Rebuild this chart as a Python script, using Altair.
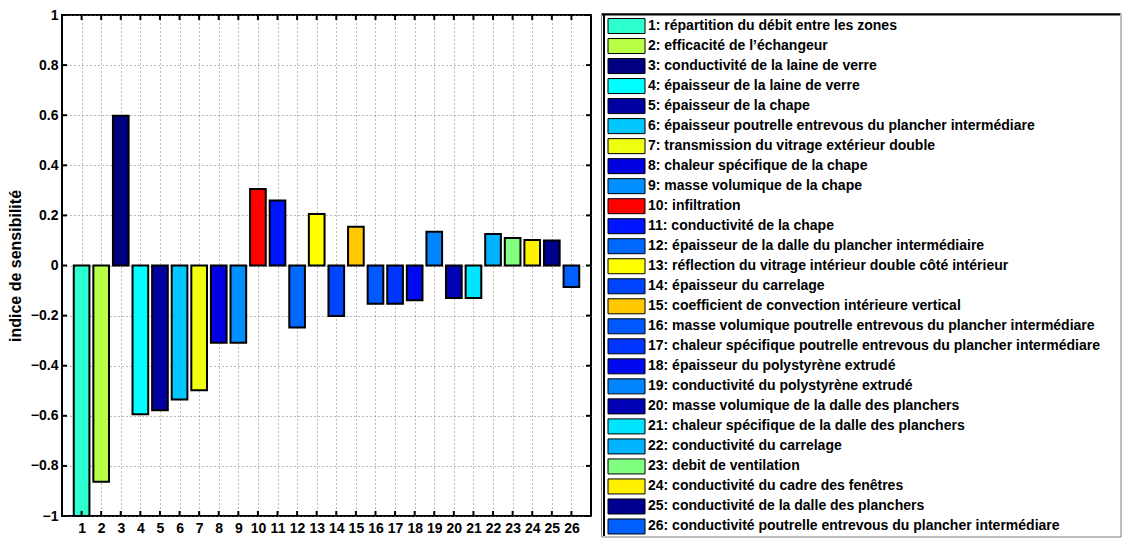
import altair as alt
import pandas as pd

# ---------------- data ----------------
nums = list(range(1, 27))
values = [-1.0, -0.863, 0.598, -0.594, -0.578, -0.535, -0.498, -0.308, -0.308,
          0.305, 0.259, -0.248, 0.206, -0.202, 0.155, -0.153, -0.153, -0.139,
          0.135, -0.130, -0.130, 0.126, 0.110, 0.102, 0.100, -0.086]
colors = ["#2EFFCF", "#B8FF45", "#000080", "#00FFFF", "#0000A0", "#00C8FF",
          "#F0FF10", "#0000E0", "#0090FF", "#FF0000", "#0014FF", "#0068FF",
          "#FFFF00", "#0044FF", "#FFC800", "#0058FF", "#0034FF", "#0008F0",
          "#0084FF", "#0000B4", "#00E4FF", "#00B4FF", "#80FF80", "#FFF000",
          "#000090", "#0060FF"]
names = [
    "répartition du débit entre les zones",
    "efficacité de l’échangeur",
    "conductivité de la laine de verre",
    "épaisseur de la laine de verre",
    "épaisseur de la chape",
    "épaisseur poutrelle entrevous du plancher intermédiare",
    "transmission du vitrage extérieur double",
    "chaleur spécifique de la chape",
    "masse volumique de la chape",
    "infiltration",
    "conductivité de la chape",
    "épaisseur de la dalle du plancher intermédiaire",
    "réflection du vitrage intérieur double côté intérieur",
    "épaisseur du carrelage",
    "coefficient de convection intérieure vertical",
    "masse volumique poutrelle entrevous du plancher intermédiare",
    "chaleur spécifique poutrelle entrevous du plancher intermédiare",
    "épaisseur du polystyrène extrudé",
    "conductivité du polystyrène extrudé",
    "masse volumique de la dalle des planchers",
    "chaleur spécifique de la dalle des planchers",
    "conductivité du carrelage",
    "debit de ventilation",
    "conductivité du cadre des fenêtres",
    "conductivité de la dalle des planchers",
    "conductivité poutrelle entrevous du plancher intermédiare",
]
y_ticks = [-1, -0.8, -0.6, -0.4, -0.2, 0, 0.2, 0.4, 0.6, 0.8, 1]
y_title = "indice de sensibilité"

# ---------------- layout constants ----------------
FONT = "Liberation Sans"
W, H = 529, 501
PAD_L, PAD_T, PAD_R, PAD_B = 54, 7, 531, 23
LEG_R = W + PAD_R - 1  # right edge of legend box (plot coords)

df = pd.DataFrame({
    "n": nums,
    "val": values,
    "color": colors,
    "label": [f"{n}: {s}" for n, s in zip(nums, names)],
})
ytick_df = pd.DataFrame({"val": y_ticks})
one_df = pd.DataFrame({"k": [0]})

x_scale = alt.Scale(domain=[0, 27], nice=False, zero=False)
y_scale = alt.Scale(domain=[-1, 1], nice=False, zero=False)

x_axis = alt.Axis(values=nums, title=None, grid=True, ticks=False, domain=False,
                  labelPadding=5, labelFlush=False)
y_axis = alt.Axis(values=y_ticks, format=".1~f", title=y_title, grid=True,
                  ticks=False, domain=False, labelPadding=4, titlePadding=7)

base = alt.Chart(df)

bars = base.mark_bar(stroke="black", strokeWidth=2).transform_calculate(
    lo="datum.n - 0.4", hi="datum.n + 0.4"
).encode(
    x=alt.X("lo:Q", scale=x_scale, axis=x_axis),
    x2="hi:Q",
    y=alt.Y("val:Q", scale=y_scale, axis=y_axis),
    y2=alt.datum(0),
    color=alt.Color("color:N", scale=None),
)

tick_style = dict(color="black", strokeWidth=2)
top_ticks = base.mark_rule(**tick_style).encode(
    x=alt.X("n:Q", scale=x_scale, axis=x_axis), y=alt.value(0), y2=alt.value(5))
bottom_ticks = base.mark_rule(**tick_style).encode(
    x=alt.X("n:Q", scale=x_scale, axis=x_axis), y=alt.value(H), y2=alt.value(H - 5))
left_ticks = alt.Chart(ytick_df).mark_rule(**tick_style).encode(
    y=alt.Y("val:Q", scale=y_scale, axis=y_axis), x=alt.value(0), x2=alt.value(5))
right_ticks = alt.Chart(ytick_df).mark_rule(**tick_style).encode(
    y=alt.Y("val:Q", scale=y_scale, axis=y_axis), x=alt.value(W), x2=alt.value(W - 5))

main = alt.layer(bars, top_ticks, bottom_ticks, left_ticks, right_ticks)

# ---------------- legend (drawn as marks) ----------------
leg_y = alt.Y("n:O", scale=alt.Scale(domain=nums, range=[1, 521.5],
                                     paddingInner=0.25, paddingOuter=0.125),
              axis=None)

box = alt.Chart(one_df).mark_rect(fill="white", stroke="#808080", strokeWidth=1).encode(
    x=alt.value(539.5), x2=alt.value(LEG_R), y=alt.value(-1.5), y2=alt.value(522))
frame_top = alt.Chart(one_df).mark_rule(color="black", strokeWidth=2).encode(
    x=alt.value(540), x2=alt.value(LEG_R - 1), y=alt.value(-0.5))
frame_left = alt.Chart(one_df).mark_rule(color="black", strokeWidth=2).encode(
    x=alt.value(542), y=alt.value(-1), y2=alt.value(521))

swatches = base.mark_rect(stroke="black", strokeWidth=1).encode(
    x=alt.value(546), x2=alt.value(583), y=leg_y,
    color=alt.Color("color:N", scale=None))
texts = base.mark_text(align="left", baseline="middle", font=FONT, fontSize=14,
                       fontWeight="bold", color="black").encode(
    x=alt.value(586), y=leg_y, text="label:N")

legend = alt.layer(box, frame_top, frame_left, swatches, texts)

chart = alt.layer(main, legend).resolve_scale(
    x="independent", y="independent"
).properties(
    width=W, height=H,
    autosize=alt.AutoSizeParams(type="none"),
    padding={"left": PAD_L, "top": PAD_T, "right": PAD_R, "bottom": PAD_B},
).configure_view(
    stroke="black", strokeWidth=2
).configure_axis(
    labelFont=FONT, labelFontSize=14, labelFontWeight="bold", labelColor="black",
    titleFont=FONT, titleFontSize=16, titleFontWeight="bold", titleColor="black",
    gridColor="#777777", gridDash=[1, 3], gridWidth=1,
)

chart.save("out.html", embed_options={"renderer": "svg", "actions": False})
